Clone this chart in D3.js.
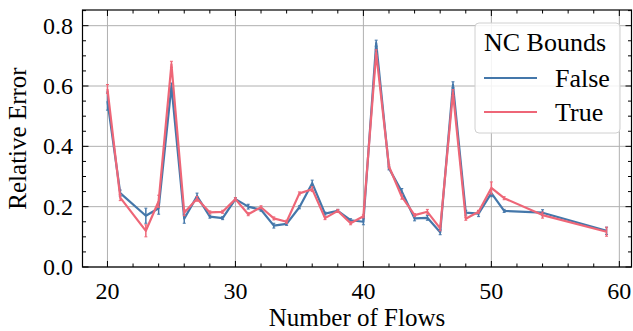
<!DOCTYPE html>
<head>
    <meta charset="utf-8">
    <script src="https://d3js.org/d3.v7.min.js"></script>
    <style>
        *{ margin:0; padding:0; }
        body{ background:#fff; }
        text{ font-family:'Liberation Serif', 'Times New Roman', serif; fill:#000; }
    </style>
</head>
<body>
<svg id="chart" width="633" height="331"></svg>
<script>
    // data
    const flows = [20,21,23,24,25,26,27,28,29,30,31,32,33,34,35,36,37,38,39,40,41,42,43,44,45,46,47,48,49,50,51,54,59];
    const falseVals = [0.55,0.245,0.17,0.195,0.60,0.16,0.235,0.167,0.162,0.225,0.2,0.19,0.137,0.143,0.198,0.278,0.177,0.186,0.155,0.15,0.742,0.327,0.25,0.161,0.163,0.115,0.604,0.18,0.177,0.245,0.186,0.18,0.12];
    const trueVals = [0.59,0.23,0.12,0.218,0.672,0.18,0.226,0.181,0.183,0.225,0.175,0.198,0.161,0.15,0.244,0.258,0.162,0.186,0.145,0.168,0.71,0.333,0.233,0.172,0.183,0.128,0.578,0.16,0.183,0.262,0.228,0.172,0.117];
    const falseErr = [0.03,0.01,0.025,0.02,0.01,0.015,0.01,0.005,0.005,0.005,0.008,0.005,0.008,0.005,0.005,0.01,0.005,0.005,0.005,0.01,0.01,0.005,0.01,0.008,0.008,0.008,0.01,0.008,0.01,0.012,0.005,0.01,0.012];
    const trueErr = [0.015,0.01,0.02,0.02,0.01,0.01,0.008,0.005,0.005,0.005,0.005,0.005,0.005,0.005,0.005,0.008,0.005,0.005,0.005,0.005,0.01,0.005,0.008,0.005,0.008,0.008,0.01,0.005,0.005,0.02,0.005,0.01,0.015];
    const xTicks = [20,30,40,50,60];
    const yTicks = [0.0,0.2,0.4,0.6,0.8];
    const seriesNames = ["False","True"];
    const colors = ["#4477AA","#EE6677"];

    const svg = d3.select("#chart");
    const pL = 82.5, pR = 631.5, pT = 10, pB = 267;

    const x = d3.scaleLinear().domain([18.05, 60.95]).range([pL, pR]);
    const y = d3.scaleLinear().domain([0, 0.852]).range([pB, pT]);

    // grid
    svg.append("g").selectAll("line").data(xTicks).join("line")
        .attr("x1", d => x(d)).attr("x2", d => x(d))
        .attr("y1", pT).attr("y2", pB)
        .attr("stroke", "#b0b0b0").attr("stroke-width", 1);
    svg.append("g").selectAll("line").data(yTicks).join("line")
        .attr("x1", pL).attr("x2", pR)
        .attr("y1", d => y(d)).attr("y2", d => y(d))
        .attr("stroke", "#b0b0b0").attr("stroke-width", 1);

    const series = [
        {vals: falseVals, err: falseErr, color: colors[0]},
        {vals: trueVals, err: trueErr, color: colors[1]}
    ];

    const line = d3.line().x(d => x(d[0])).y(d => y(d[1]));

    series.forEach(s => {
        const pts = flows.map((f, i) => [f, s.vals[i], s.err[i]]);
        const g = svg.append("g");
        // error bars
        g.selectAll("line.err").data(pts).join("line")
            .attr("class", "err")
            .attr("x1", d => x(d[0])).attr("x2", d => x(d[0]))
            .attr("y1", d => y(d[1] - d[2])).attr("y2", d => y(d[1] + d[2]))
            .attr("stroke", s.color).attr("stroke-width", 1.5);
        g.selectAll("line.cap").data(pts.flatMap(d => [[d[0], d[1] - d[2]], [d[0], d[1] + d[2]]])).join("line")
            .attr("class", "cap")
            .attr("x1", d => x(d[0]) - 1.5).attr("x2", d => x(d[0]) + 1.5)
            .attr("y1", d => y(d[1])).attr("y2", d => y(d[1]))
            .attr("stroke", s.color).attr("stroke-width", 1);
        g.append("path")
            .attr("d", line(pts))
            .attr("fill", "none")
            .attr("stroke", s.color)
            .attr("stroke-width", 2.2)
            .attr("stroke-linejoin", "round");
    });

    // frame
    svg.append("rect")
        .attr("x", pL).attr("y", pT)
        .attr("width", pR - pL).attr("height", pB - pT)
        .attr("fill", "none").attr("stroke", "#000").attr("stroke-width", 1.2);

    // inward ticks on all sides
    const xMinor = d3.range(20, 61, 2).filter(d => d % 10 !== 0);
    const yMinor = d3.range(0.05, 0.851, 0.05).filter(d => Math.abs(d * 5 - Math.round(d * 5)) > 1e-6);
    const tk = svg.append("g").attr("stroke", "#000").attr("stroke-width", 1);
    xTicks.forEach(d => {
        tk.append("line").attr("x1", x(d)).attr("x2", x(d)).attr("y1", pB).attr("y2", pB - 6);
        tk.append("line").attr("x1", x(d)).attr("x2", x(d)).attr("y1", pT).attr("y2", pT + 6);
    });
    xMinor.forEach(d => {
        tk.append("line").attr("x1", x(d)).attr("x2", x(d)).attr("y1", pB).attr("y2", pB - 3.5);
        tk.append("line").attr("x1", x(d)).attr("x2", x(d)).attr("y1", pT).attr("y2", pT + 3.5);
    });
    yTicks.forEach(d => {
        tk.append("line").attr("x1", pL).attr("x2", pL + 6).attr("y1", y(d)).attr("y2", y(d));
        tk.append("line").attr("x1", pR).attr("x2", pR - 6).attr("y1", y(d)).attr("y2", y(d));
    });
    yMinor.forEach(d => {
        tk.append("line").attr("x1", pL).attr("x2", pL + 3.5).attr("y1", y(d)).attr("y2", y(d));
        tk.append("line").attr("x1", pR).attr("x2", pR - 3.5).attr("y1", y(d)).attr("y2", y(d));
    });

    // tick labels
    svg.append("g").selectAll("text").data(xTicks).join("text")
        .attr("x", d => x(d)).attr("y", 299)
        .attr("text-anchor", "middle").style("font-size", "24px")
        .text(d => d);
    svg.append("g").selectAll("text").data(yTicks).join("text")
        .attr("x", 73).attr("y", d => y(d)).attr("dy", "0.33em")
        .attr("text-anchor", "end").style("font-size", "24px")
        .text(d => d.toFixed(1));

    // axis labels
    svg.append("text")
        .attr("x", (pL + pR) / 2).attr("y", 326)
        .attr("text-anchor", "middle").style("font-size", "25px")
        .text("Number of Flows");
    svg.append("text")
        .attr("transform", `translate(26,${(pT + pB) / 2}) rotate(-90)`)
        .attr("text-anchor", "middle").style("font-size", "25px")
        .text("Relative Error");

    // legend
    const lg = svg.append("g");
    lg.append("rect")
        .attr("x", 475).attr("y", 23).attr("width", 145).attr("height", 110)
        .attr("rx", 4).attr("fill", "#fff").attr("fill-opacity", 0.85)
        .attr("stroke", "#d0d0d0").attr("stroke-width", 1);
    lg.append("text")
        .attr("x", 484).attr("y", 51)
        .style("font-size", "26px")
        .text("NC Bounds");
    seriesNames.forEach((n, i) => {
        const cy = 78 + i * 34;
        lg.append("line")
            .attr("x1", 484).attr("x2", 537).attr("y1", cy).attr("y2", cy)
            .attr("stroke", colors[i]).attr("stroke-width", 2.2);
        lg.append("text")
            .attr("x", 555).attr("y", cy).attr("dy", "0.35em")
            .style("font-size", "26px")
            .text(n);
    });
</script>
</body>
</html>
